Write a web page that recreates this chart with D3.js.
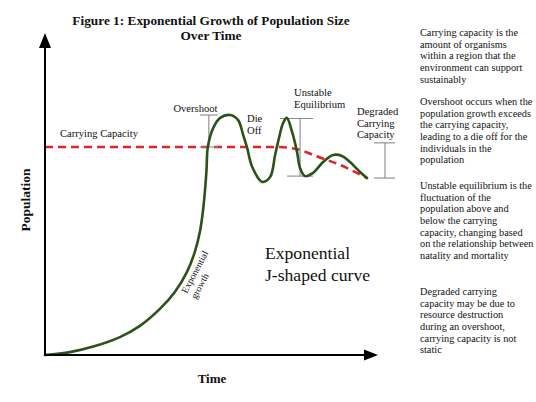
<!DOCTYPE html>
<html>
<head>
<meta charset="utf-8">
<script src="https://cdn.jsdelivr.net/npm/d3@7"></script>
<style>
  html, body { margin: 0; padding: 0; background: #fff; }
  svg { display: block; }
  text { font-family: "Liberation Serif", "Times New Roman", serif; fill: #111; }
</style>
</head>
<body>
<svg id="chart" width="536" height="402"></svg>
<script>
// ---- data (time 0..100, population 0..100) ----
const populationTime = [0, 7.5, 15.0, 22.5, 28.5, 34.5, 39.0, 42.6, 45.0, 46.5, 47.4, 48.0, 48.5, 48.9, 50.5, 52.6, 55.6, 58.0, 59.5, 60.7, 62.2, 65.2, 67.6, 69.1, 70.0, 71.5, 72.6, 74.2, 75.7, 76.6, 78.1, 80.5, 83.5, 86.5, 89.2, 91.6, 94.6, 96.7];
const populationSize = [0, 0.9, 2.8, 5.6, 9.1, 14.4, 19.7, 25.9, 32.2, 38.4, 44.7, 50.9, 57.8, 65.0, 70.9, 74.1, 75.0, 73.4, 68.8, 64.7, 58.8, 54.1, 55.6, 62.5, 66.6, 72.5, 74.1, 69.7, 63.4, 58.4, 55.9, 56.9, 60.3, 62.5, 62.2, 60.3, 57.2, 55.3];
const capacityTime = [0, 35, 70.6, 73.6, 76.6, 80.5, 88.6, 96.7];
const capacityValue = [65, 65, 65, 64.7, 64.1, 62.5, 59.4, 55.3];

const titleLines = ["Figure 1: Exponential Growth of Population Size", "Over Time"];
const xAxisLabel = "Time";
const yAxisLabel = "Population";

// annotation brackets: [time, low, high]
const bracketNames = ["Overshoot", "Unstable Equilibrium", "Degraded Carrying Capacity"];
const bracketTime = [49.2, 76.6, 102.1];
const bracketLow = [65, 55.9, 55.3];
const bracketHigh = [75, 73.9, 66.3];

const notes = [
  ["Carrying capacity is the", "amount of organisms", "within a region that the", "environment can support", "sustainably"],
  ["Overshoot occurs when the", "population growth exceeds", "the carrying capacity,", "leading to a die off for the", "individuals in the", "population"],
  ["Unstable equilibrium is the", "fluctuation of the", "population above and", "below the carrying", "capacity, changing based", "on the relationship between", "natality and mortality"],
  ["Degraded carrying", "capacity may be due to", "resource destruction", "during an overshoot,", "carrying capacity is not", "static"]
];

// ---- layout ----
const svg = d3.select("#chart");
const x = d3.scaleLinear().domain([0, 100]).range([45, 378]);
const y = d3.scaleLinear().domain([0, 100]).range([355, 35]);

// title
svg.append("g").selectAll("text").data(titleLines).join("text")
  .attr("x", 211).attr("y", (d, i) => 25 + i * 15)
  .attr("text-anchor", "middle")
  .style("font-weight", "bold").style("font-size", "13.3px")
  .text(d => d);

// carrying capacity dashed line
const capData = capacityTime.map((t, i) => [t, capacityValue[i]]);
svg.append("path")
  .datum(capData)
  .attr("d", d3.line().x(d => x(d[0])).y(d => y(d[1])).curve(d3.curveMonotoneX))
  .attr("fill", "none")
  .attr("stroke", "#e0242a")
  .attr("stroke-width", 2.6)
  .attr("stroke-dasharray", "8,5");

// brackets
const tickHalf = [[9, 9], [20, 13], [11, 10]];
const tickHalfLow = [[9, 9], [13, 13], [11, 10]];
const bg = svg.append("g").attr("stroke", "#8a8a8a").attr("stroke-width", 1.1).attr("fill", "none");
bracketTime.forEach((t, i) => {
  const bx = x(t);
  bg.append("line").attr("x1", bx).attr("x2", bx).attr("y1", y(bracketHigh[i])).attr("y2", y(bracketLow[i]));
  bg.append("line").attr("x1", bx - tickHalf[i][0]).attr("x2", bx + tickHalf[i][1]).attr("y1", y(bracketHigh[i])).attr("y2", y(bracketHigh[i]));
  bg.append("line").attr("x1", bx - tickHalfLow[i][0]).attr("x2", bx + tickHalfLow[i][1]).attr("y1", y(bracketLow[i])).attr("y2", y(bracketLow[i]));
});

// population curve
const popData = populationTime.map((t, i) => [t, populationSize[i]]);
svg.append("path")
  .datum(popData)
  .attr("d", d3.line().x(d => x(d[0])).y(d => y(d[1])).curve(d3.curveCatmullRom.alpha(0.5)))
  .attr("fill", "none")
  .attr("stroke", "#2c5219")
  .attr("stroke-width", 2.6)
  .attr("stroke-linecap", "round");

// axes with arrows
const ax = svg.append("g");
ax.append("line").attr("x1", x(0)).attr("x2", x(0)).attr("y1", y(0) + 1).attr("y2", y(100) + 10)
  .attr("stroke", "#000").attr("stroke-width", 2);
ax.append("line").attr("x1", x(0) - 1).attr("x2", x(100) - 10).attr("y1", y(0)).attr("y2", y(0))
  .attr("stroke", "#000").attr("stroke-width", 2);
ax.append("path")
  .attr("d", `M${x(0)},${y(100) - 2} L${x(0) - 6},${y(100) + 13} L${x(0) + 6},${y(100) + 13} Z`)
  .attr("fill", "#000");
ax.append("path")
  .attr("d", `M${x(100)},${y(0)} L${x(100) - 14},${y(0) - 5.5} L${x(100) - 14},${y(0) + 5.5} Z`)
  .attr("fill", "#000");

// axis labels
svg.append("text").attr("x", 212).attr("y", 383).attr("text-anchor", "middle")
  .style("font-weight", "bold").style("font-size", "13px").text(xAxisLabel);
svg.append("text").attr("transform", "translate(29.5,200) rotate(-90)").attr("text-anchor", "middle")
  .style("font-weight", "bold").style("font-size", "13.5px").text(yAxisLabel);

// chart annotations
const small = "10.6px";
svg.append("text").attr("x", 60).attr("y", 137).style("font-size", small).text("Carrying Capacity");
svg.append("text").attr("x", 195.5).attr("y", 112).attr("text-anchor", "middle").style("font-size", small).text(bracketNames[0]);
svg.append("g").selectAll("text").data(["Die", "Off"]).join("text")
  .attr("x", 247).attr("y", (d, i) => 122 + i * 12).style("font-size", small).text(d => d);
svg.append("g").selectAll("text").data(bracketNames[1].split(" ")).join("text")
  .attr("x", 294).attr("y", (d, i) => 96 + i * 11.5).style("font-size", small).text(d => d);
svg.append("g").selectAll("text").data(["Degraded", "Carrying", "Capacity"]).join("text")
  .attr("x", 357).attr("y", (d, i) => 115 + i * 11.7).style("font-size", small).text(d => d);

svg.append("text").attr("transform", "translate(184,292.5) rotate(-62)")
  .attr("dy", "0.32em").style("font-size", "9.6px").text("Exponential");
svg.append("text").attr("transform", "translate(193.5,298) rotate(-62)")
  .attr("dy", "0.32em").style("font-size", "9.6px").text("growth");

svg.append("g").selectAll("text").data(["Exponential", "J-shaped curve"]).join("text")
  .attr("x", 265).attr("y", (d, i) => 259 + i * 22).style("font-size", "17.6px").text(d => d);

// right-side notes
const blockStart = [36, 105, 189, 295];
const lh = 11.65;
notes.forEach((lines, b) => {
  svg.append("g").selectAll("text").data(lines).join("text")
    .attr("x", 420).attr("y", (d, i) => blockStart[b] + i * lh)
    .style("font-size", "10.3px").text(d => d);
});
</script>
</body>
</html>
